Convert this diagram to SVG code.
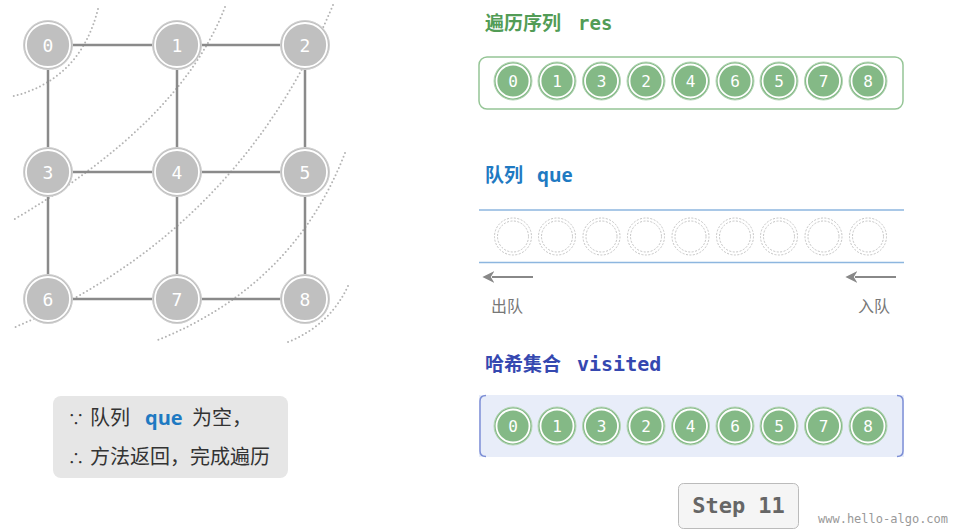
<svg xmlns="http://www.w3.org/2000/svg" width="960" height="532" viewBox="0 0 960 532">
<style>
.arc{fill:none;stroke:#b4b4b4;stroke-width:2;stroke-dasharray:0 4;stroke-linecap:round}
.edge{stroke:#8a8a8a;stroke-width:2.5}
.gn{fill:#c0c0c0;stroke:#d0d0d0;stroke-width:1}
.ring{fill:none;stroke:#fff;stroke-width:1.8}
.gl{font-family:"DejaVu Sans Mono",monospace;font-size:18px;fill:#fff;text-anchor:middle}
.vn{fill:#84b986;stroke:#b5d6b6;stroke-width:1}
.vl{font-family:"DejaVu Sans Mono",monospace;font-size:16px;fill:#fff;text-anchor:middle}
.qe{fill:none;stroke:#c4c4c4;stroke-width:1;stroke-dasharray:2 1.5}
.cj{font-family:"Noto Sans CJK SC",sans-serif}
.mono{font-family:"DejaVu Sans Mono",monospace}
.arr{stroke:#888;stroke-width:2;fill:none}
</style>
<defs>
<marker id="ah" viewBox="0 0 10 10" refX="2" refY="5" markerWidth="6" markerHeight="6" orient="auto-start-reverse">
<path d="M0,0 L10,5 L0,10 L3,5 z" fill="#888"/>
</marker>
</defs>

<g id="arcs">
<path class="arc" d="M98,9 Q80,81 10,97"/>
<path class="arc" d="M225,7 Q181,122 13,220"/>
<path class="arc" d="M333,5 Q237,233 13,328"/>
<path class="arc" d="M345,153 Q294,285 158,340"/>
<path class="arc" d="M348,286 Q330,325 288,342"/>
</g>

<g id="connectors">
<line class="edge" x1="48" y1="45" x2="177" y2="45"/>
<line class="edge" x1="177" y1="45" x2="305" y2="45"/>
<line class="edge" x1="48" y1="172" x2="177" y2="172"/>
<line class="edge" x1="177" y1="172" x2="305" y2="172"/>
<line class="edge" x1="48" y1="299" x2="177" y2="299"/>
<line class="edge" x1="177" y1="299" x2="305" y2="299"/>
<line class="edge" x1="48" y1="45" x2="48" y2="172"/>
<line class="edge" x1="48" y1="172" x2="48" y2="299"/>
<line class="edge" x1="177" y1="45" x2="177" y2="172"/>
<line class="edge" x1="177" y1="172" x2="177" y2="299"/>
<line class="edge" x1="305" y1="45" x2="305" y2="172"/>
<line class="edge" x1="305" y1="172" x2="305" y2="299"/>
</g>

<g id="node0"><circle class="gn" cx="48" cy="45" r="24.5"/><circle class="ring" cx="48" cy="45" r="22"/><text class="gl" x="48" y="51.5">0</text></g>
<g id="node1"><circle class="gn" cx="177" cy="45" r="24.5"/><circle class="ring" cx="177" cy="45" r="22"/><text class="gl" x="177" y="51.5">1</text></g>
<g id="node2"><circle class="gn" cx="305" cy="45" r="24.5"/><circle class="ring" cx="305" cy="45" r="22"/><text class="gl" x="305" y="51.5">2</text></g>
<g id="node3"><circle class="gn" cx="48" cy="172" r="24.5"/><circle class="ring" cx="48" cy="172" r="22"/><text class="gl" x="48" y="178.5">3</text></g>
<g id="node4"><circle class="gn" cx="177" cy="172" r="24.5"/><circle class="ring" cx="177" cy="172" r="22"/><text class="gl" x="177" y="178.5">4</text></g>
<g id="node5"><circle class="gn" cx="305" cy="172" r="24.5"/><circle class="ring" cx="305" cy="172" r="22"/><text class="gl" x="305" y="178.5">5</text></g>
<g id="node6"><circle class="gn" cx="48" cy="299" r="24.5"/><circle class="ring" cx="48" cy="299" r="22"/><text class="gl" x="48" y="305.5">6</text></g>
<g id="node7"><circle class="gn" cx="177" cy="299" r="24.5"/><circle class="ring" cx="177" cy="299" r="22"/><text class="gl" x="177" y="305.5">7</text></g>
<g id="node8"><circle class="gn" cx="305" cy="299" r="24.5"/><circle class="ring" cx="305" cy="299" r="22"/><text class="gl" x="305" y="305.5">8</text></g>

<g id="note">
<rect x="53" y="396" width="235" height="82" rx="8" fill="#e6e6e6"/>
<text class="cj" x="68" y="425" font-size="16" fill="#333">∵<tspan x="90" font-size="20">队列</tspan><tspan x="145" font-size="20" font-weight="bold" fill="#1f7ac2" font-family="'Open Sans',sans-serif">que</tspan><tspan x="192" font-size="20">为空，</tspan></text>
<text class="cj" x="68" y="464" font-size="16" fill="#333">∴<tspan x="90" font-size="20">方法返回，完成遍历</tspan></text>
</g>

<g id="res">
<text x="485" y="30" font-size="19" font-weight="bold" fill="#529c56"><tspan class="cj">遍历序列</tspan><tspan class="mono" x="578">res</tspan></text>
<rect x="479" y="57" width="424" height="52" rx="8" fill="#fff" stroke="#95c596" stroke-width="1.5"/>
<g><circle class="vn" cx="513" cy="81" r="19"/><circle class="ring" cx="513" cy="81" r="16.5"/><text class="vl" x="513" y="87">0</text></g>
<g><circle class="vn" cx="557" cy="81" r="19"/><circle class="ring" cx="557" cy="81" r="16.5"/><text class="vl" x="557" y="87">1</text></g>
<g><circle class="vn" cx="601.5" cy="81" r="19"/><circle class="ring" cx="601.5" cy="81" r="16.5"/><text class="vl" x="601.5" y="87">3</text></g>
<g><circle class="vn" cx="646" cy="81" r="19"/><circle class="ring" cx="646" cy="81" r="16.5"/><text class="vl" x="646" y="87">2</text></g>
<g><circle class="vn" cx="690.5" cy="81" r="19"/><circle class="ring" cx="690.5" cy="81" r="16.5"/><text class="vl" x="690.5" y="87">4</text></g>
<g><circle class="vn" cx="735" cy="81" r="19"/><circle class="ring" cx="735" cy="81" r="16.5"/><text class="vl" x="735" y="87">6</text></g>
<g><circle class="vn" cx="779" cy="81" r="19"/><circle class="ring" cx="779" cy="81" r="16.5"/><text class="vl" x="779" y="87">5</text></g>
<g><circle class="vn" cx="823.5" cy="81" r="19"/><circle class="ring" cx="823.5" cy="81" r="16.5"/><text class="vl" x="823.5" y="87">7</text></g>
<g><circle class="vn" cx="868" cy="81" r="19"/><circle class="ring" cx="868" cy="81" r="16.5"/><text class="vl" x="868" y="87">8</text></g>
</g>

<g id="queue">
<text x="485" y="182" font-size="19" font-weight="bold" fill="#1f7ac2"><tspan class="cj">队列</tspan><tspan x="537" font-family="'Open Sans',sans-serif">que</tspan></text>
<line x1="479" y1="210" x2="904" y2="210" stroke="#8db6df" stroke-width="1.5"/>
<line x1="479" y1="262.5" x2="904" y2="262.5" stroke="#8db6df" stroke-width="1.5"/>
<g><circle class="qe" cx="513" cy="236.5" r="18.5"/><circle class="qe" cx="513" cy="236.5" r="15.5"/></g>
<g><circle class="qe" cx="557" cy="236.5" r="18.5"/><circle class="qe" cx="557" cy="236.5" r="15.5"/></g>
<g><circle class="qe" cx="601.5" cy="236.5" r="18.5"/><circle class="qe" cx="601.5" cy="236.5" r="15.5"/></g>
<g><circle class="qe" cx="646" cy="236.5" r="18.5"/><circle class="qe" cx="646" cy="236.5" r="15.5"/></g>
<g><circle class="qe" cx="690.5" cy="236.5" r="18.5"/><circle class="qe" cx="690.5" cy="236.5" r="15.5"/></g>
<g><circle class="qe" cx="735" cy="236.5" r="18.5"/><circle class="qe" cx="735" cy="236.5" r="15.5"/></g>
<g><circle class="qe" cx="779" cy="236.5" r="18.5"/><circle class="qe" cx="779" cy="236.5" r="15.5"/></g>
<g><circle class="qe" cx="823.5" cy="236.5" r="18.5"/><circle class="qe" cx="823.5" cy="236.5" r="15.5"/></g>
<g><circle class="qe" cx="868" cy="236.5" r="18.5"/><circle class="qe" cx="868" cy="236.5" r="15.5"/></g>
<line class="arr" x1="533" y1="277" x2="492" y2="277" marker-end="url(#ah)"/>
<line class="arr" x1="896" y1="277" x2="855" y2="277" marker-end="url(#ah)"/>
<text class="cj" x="491" y="312" font-size="16" fill="#777">出队</text>
<text class="cj" x="858" y="312" font-size="16" fill="#777">入队</text>
</g>

<g id="visited">
<text x="485" y="371" font-size="19" font-weight="bold" fill="#3548b0"><tspan class="cj">哈希集合</tspan><tspan class="mono" x="577" font-size="20">visited</tspan></text>
<rect x="479" y="395" width="425" height="62" fill="#e8edf9"/>
<path d="M486,395.5 Q480,395.5 480,401 L480,451 Q480,456.5 486,456.5" fill="none" stroke="#7d8fd6" stroke-width="1.5"/>
<path d="M897,395.5 Q903,395.5 903,401 L903,451 Q903,456.5 897,456.5" fill="none" stroke="#7d8fd6" stroke-width="1.5"/>
<g><circle class="vn" cx="513" cy="426" r="19"/><circle class="ring" cx="513" cy="426" r="16.5"/><text class="vl" x="513" y="432">0</text></g>
<g><circle class="vn" cx="557" cy="426" r="19"/><circle class="ring" cx="557" cy="426" r="16.5"/><text class="vl" x="557" y="432">1</text></g>
<g><circle class="vn" cx="601.5" cy="426" r="19"/><circle class="ring" cx="601.5" cy="426" r="16.5"/><text class="vl" x="601.5" y="432">3</text></g>
<g><circle class="vn" cx="646" cy="426" r="19"/><circle class="ring" cx="646" cy="426" r="16.5"/><text class="vl" x="646" y="432">2</text></g>
<g><circle class="vn" cx="690.5" cy="426" r="19"/><circle class="ring" cx="690.5" cy="426" r="16.5"/><text class="vl" x="690.5" y="432">4</text></g>
<g><circle class="vn" cx="735" cy="426" r="19"/><circle class="ring" cx="735" cy="426" r="16.5"/><text class="vl" x="735" y="432">6</text></g>
<g><circle class="vn" cx="779" cy="426" r="19"/><circle class="ring" cx="779" cy="426" r="16.5"/><text class="vl" x="779" y="432">5</text></g>
<g><circle class="vn" cx="823.5" cy="426" r="19"/><circle class="ring" cx="823.5" cy="426" r="16.5"/><text class="vl" x="823.5" y="432">7</text></g>
<g><circle class="vn" cx="868" cy="426" r="19"/><circle class="ring" cx="868" cy="426" r="16.5"/><text class="vl" x="868" y="432">8</text></g>
</g>

<g id="step">
<rect x="678.5" y="483.5" width="120" height="45" rx="5" fill="#f5f5f5" stroke="#bbb" stroke-width="1"/>
<text class="mono" x="738.5" y="513" font-size="22" font-weight="bold" fill="#666" text-anchor="middle">Step 11</text>
</g>
<text class="mono" x="818" y="523" font-size="12" fill="#999">www.hello-algo.com</text>
</svg>
